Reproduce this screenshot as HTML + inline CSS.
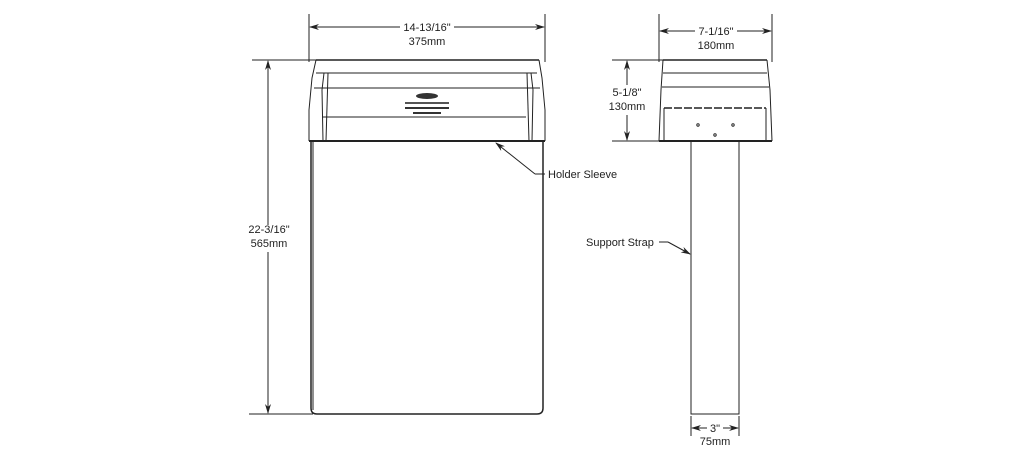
<!DOCTYPE html>
<html><head><style>
body{margin:0;background:#fff;}
svg text{font-family:"Liberation Sans",Arial,sans-serif;font-size:11px;fill:#222;}
</style></head><body>
<svg width="1025" height="454" viewBox="0 0 1025 454" xmlns="http://www.w3.org/2000/svg">
<defs>
<marker id="a" markerWidth="10" markerHeight="6" refX="9" refY="3" orient="auto" markerUnits="userSpaceOnUse"><path d="M0,0 L10,3 L0,6 L3,3 Z" fill="#222"/></marker>
</defs>
<g stroke="#222" stroke-width="1" fill="none">
<line x1="309" y1="14" x2="309" y2="62"/>
<line x1="545" y1="14" x2="545" y2="62"/>
<line x1="400" y1="27" x2="310" y2="27" marker-end="url(#a)"/>
<line x1="454" y1="27" x2="544" y2="27" marker-end="url(#a)"/>
<line x1="252" y1="60" x2="316" y2="60"/>
<line x1="249" y1="414" x2="313" y2="414"/>
<line x1="268" y1="225" x2="268" y2="61" marker-end="url(#a)"/>
<line x1="268" y1="252" x2="268" y2="413" marker-end="url(#a)"/>
<line x1="316" y1="60" x2="539" y2="60" stroke-width="1.5"/>
<line x1="316" y1="73" x2="537" y2="73"/>
<line x1="314" y1="88" x2="540" y2="88"/>
<line x1="322" y1="117" x2="526" y2="117"/>
<path d="M316,60 L312,78 L309,110 L309,141"/>
<path d="M539,60 L542,78 L545,110 L545,141"/>
<path d="M324,73 L322,90 L323,141"/>
<path d="M531,73 L533,90 L532,141"/>
<path d="M328,73 L326,141"/>
<path d="M527,73 L529,141"/>
<line x1="309" y1="141" x2="545" y2="141" stroke-width="2"/>
<path d="M311,141 L311,408 Q311,414 317,414 L537,414 Q543,414 543,408 L543,141" stroke-width="1.5"/>
<line x1="313" y1="141" x2="313" y2="410"/>
<line x1="545" y1="174" x2="535" y2="174"/>
<line x1="535" y1="174" x2="496" y2="143" marker-end="url(#a)"/>
<line x1="659" y1="14" x2="659" y2="62"/>
<line x1="772" y1="14" x2="772" y2="62"/>
<line x1="695" y1="31" x2="660" y2="31" marker-end="url(#a)"/>
<line x1="737" y1="31" x2="771" y2="31" marker-end="url(#a)"/>
<line x1="612" y1="60" x2="664" y2="60"/>
<line x1="612" y1="141" x2="660" y2="141"/>
<line x1="627" y1="85" x2="627" y2="61" marker-end="url(#a)"/>
<line x1="627" y1="115" x2="627" y2="140" marker-end="url(#a)"/>
<line x1="663" y1="60" x2="767" y2="60" stroke-width="1.5"/>
<line x1="663" y1="73" x2="767" y2="73"/>
<line x1="662" y1="87" x2="769" y2="87"/>
<line x1="664" y1="108" x2="766" y2="108" stroke-width="1.5" stroke-dasharray="8,2"/>
<path d="M663,60 L661,90 L659,141"/>
<path d="M767,60 L770,90 L772,141"/>
<line x1="664" y1="108" x2="664" y2="141"/>
<line x1="766" y1="108" x2="766" y2="141"/>
<line x1="659" y1="141" x2="772" y2="141" stroke-width="2"/>
<circle cx="698" cy="125" r="1.2"/><circle cx="733" cy="125" r="1.2"/><circle cx="715" cy="135" r="1.2"/>
<rect x="691" y="141" width="48" height="273"/>
<line x1="691" y1="416" x2="691" y2="436"/>
<line x1="739" y1="416" x2="739" y2="436"/>
<line x1="707" y1="428" x2="692" y2="428" marker-end="url(#a)"/>
<line x1="723" y1="428" x2="738" y2="428" marker-end="url(#a)"/>
<line x1="659" y1="242" x2="668" y2="242"/>
<line x1="668" y1="242" x2="690" y2="254" marker-end="url(#a)"/>
</g>
<ellipse cx="427" cy="96" rx="11" ry="3" fill="#333"/>
<rect x="405" y="102" width="44" height="2" fill="#555"/>
<rect x="405" y="107" width="44" height="2" fill="#333"/>
<rect x="413" y="112" width="28" height="2" fill="#333"/>
<text x="427" y="31" text-anchor="middle">14-13/16"</text>
<text x="427" y="45" text-anchor="middle">375mm</text>
<text x="269" y="233" text-anchor="middle">22-3/16"</text>
<text x="269" y="247" text-anchor="middle">565mm</text>
<text x="548" y="178">Holder Sleeve</text>
<text x="716" y="35" text-anchor="middle">7-1/16"</text>
<text x="716" y="49" text-anchor="middle">180mm</text>
<text x="627" y="96" text-anchor="middle">5-1/8"</text>
<text x="627" y="110" text-anchor="middle">130mm</text>
<text x="586" y="246">Support Strap</text>
<text x="715" y="432" text-anchor="middle">3"</text>
<text x="715" y="445" text-anchor="middle">75mm</text>
</svg>
</body></html>
